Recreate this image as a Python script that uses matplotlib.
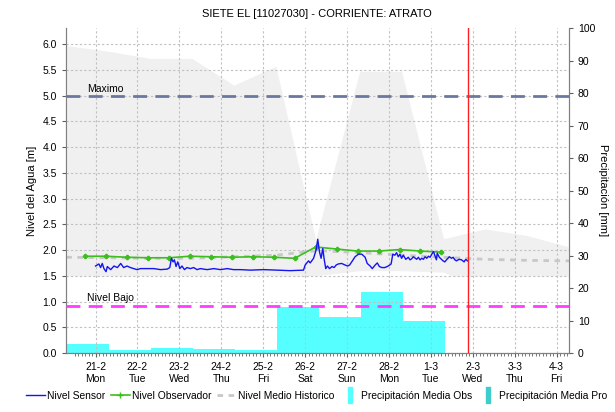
import matplotlib
matplotlib.use("Agg")
import matplotlib.pyplot as plt
from matplotlib.lines import Line2D
import numpy as np

# time axis: days since 21-2 00:00
tick_days = [0, 1, 2, 3, 4, 5, 6, 7, 8, 9, 10, 11]
tick_labels = ["21-2\nMon", "22-2\nTue", "23-2\nWed", "24-2\nThu", "25-2\nFri",
               "26-2\nSat", "27-2\nSun", "28-2\nMon", "1-3\nTue", "2-3\nWed",
               "3-3\nThu", "4-3\nFri"]

# Nivel Sensor [m]
sensor_t = [0.00, 0.08, 0.12, 0.16, 0.20, 0.25, 0.28, 0.36, 0.44, 0.52, 0.60, 0.67,
            0.75, 0.83, 0.91, 0.99, 1.07, 1.23, 1.39, 1.55, 1.71, 1.77, 1.81, 1.85,
            1.88, 1.92, 1.96, 2.01, 2.06, 2.12, 2.18, 2.26, 2.34, 2.42, 2.50, 2.66,
            2.82, 2.98, 3.14, 3.29, 3.45, 3.69, 4.01, 4.33, 4.64, 4.96, 5.00, 5.08,
            5.12, 5.20, 5.26, 5.30, 5.34, 5.38, 5.42, 5.45, 5.49, 5.53, 5.58, 5.64,
            5.69, 5.74, 5.79, 5.87, 5.95, 6.01, 6.06, 6.11, 6.19, 6.27, 6.35, 6.43,
            6.48, 6.55, 6.60, 6.67, 6.72, 6.77, 6.83, 6.90, 6.98, 7.05, 7.09, 7.14,
            7.18, 7.22, 7.26, 7.30, 7.34, 7.40, 7.46, 7.50, 7.54, 7.58, 7.66, 7.70,
            7.74, 7.78, 7.82, 7.86, 7.90, 7.94, 7.98, 8.02, 8.06, 8.10, 8.13, 8.15,
            8.20, 8.25, 8.29, 8.33, 8.37, 8.44, 8.49, 8.53, 8.57, 8.61, 8.67, 8.73,
            8.79, 8.83, 8.87]
sensor_v = [1.69, 1.73, 1.66, 1.74, 1.64, 1.58, 1.68, 1.62, 1.69, 1.66, 1.74, 1.66,
            1.69, 1.66, 1.64, 1.62, 1.64, 1.64, 1.64, 1.62, 1.63, 1.66, 1.84, 1.77,
            1.81, 1.68, 1.77, 1.64, 1.69, 1.62, 1.66, 1.64, 1.66, 1.62, 1.64, 1.62,
            1.64, 1.62, 1.64, 1.62, 1.62, 1.61, 1.62, 1.61, 1.60, 1.61, 1.71, 1.79,
            1.75, 1.84, 2.00, 2.21, 1.97, 1.84, 2.03, 1.84, 1.64, 1.69, 1.64, 1.68,
            1.66, 1.71, 1.73, 1.74, 1.71, 1.69, 1.71, 1.77, 1.87, 1.92, 1.92, 1.86,
            1.74, 1.69, 1.64, 1.71, 1.75, 1.68, 1.66, 1.66, 1.69, 1.73, 1.92, 1.90,
            1.95, 1.87, 1.92, 1.84, 1.90, 1.82, 1.86, 1.81, 1.83, 1.87, 1.82, 1.86,
            1.81, 1.84, 1.82, 1.87, 1.84, 1.88, 1.86, 1.92, 1.97, 1.88, 1.81, 1.94,
            1.86, 1.82, 1.79, 1.77, 1.81, 1.87, 1.84, 1.86, 1.81, 1.79, 1.82, 1.81,
            1.77, 1.82, 1.79]

# Nivel Observador [m]
obs_t = [-0.25, 0.25, 0.75, 1.25, 1.75, 2.25, 2.75, 3.25, 3.75, 4.25, 4.75,
         5.25, 5.75, 6.25, 6.75, 7.25, 7.75, 8.25]
obs_v = [1.88, 1.88, 1.86, 1.85, 1.85, 1.88, 1.87, 1.86, 1.87, 1.86, 1.84,
         2.06, 2.02, 1.98, 1.98, 2.01, 1.98, 1.96]

# Nivel Medio Historico [m] and historical band
hist_t = [-0.7, 0.3, 1.3, 2.3, 3.3, 4.3, 5.3, 6.3, 7.3, 8.3, 9.3, 10.3, 11.3]
hist_mean = [1.86, 1.85, 1.84, 1.84, 1.87, 1.90, 1.99, 1.95, 1.90, 1.86, 1.82, 1.80, 1.79]
band_t = [-0.7, 0.3, 1.3, 2.3, 3.3, 4.3, 5.25, 6.3, 7.3, 8.3, 8.5, 9.3, 10.3, 11.3]
band_hi = [5.97, 5.86, 5.72, 5.72, 5.20, 5.57, 2.20, 5.47, 5.47, 2.22, 2.26, 2.41, 2.28, 2.06]
band_lo = [1.50, 1.50, 1.50, 1.50, 1.50, 1.50, 1.50, 1.60, 1.60, 1.57, 1.50, 1.50, 1.50, 1.50]

# Precipitacion Media Obs [mm], daily totals (07:00 - 07:00)
rain_start = [-1.67, -0.67, 0.33, 1.33, 2.33, 3.33, 4.33, 5.33, 6.33, 7.33]
rain_mm = [18.2, 2.7, 1.1, 1.7, 1.4, 0.8, 14.3, 11.1, 18.7, 9.8]

nivel_max = 5.0
nivel_bajo = 0.92
now_t = 8.88

plt.rcParams['font.family'] = ['Liberation Sans', 'DejaVu Sans']
plt.rcParams['font.size'] = 7.5

fig = plt.figure(figsize=(6.15, 4.12), dpi=100)
ax = fig.add_axes([0.107, 0.143, 0.818, 0.789])
ax2 = ax.twinx()
ax.set_zorder(ax2.get_zorder() + 1)
ax.patch.set_visible(False)

# bars on the mm axis
ax2.bar(rain_start, rain_mm, width=1.0, align='edge', color='#55ffff', linewidth=0)
ax2.set_ylim(0, 100)
ax2.set_yticks(np.arange(0, 101, 10))
ax2.set_ylabel("Precipitación [mm]", rotation=270, labelpad=9, fontsize=8)

ax.fill_between(band_t, band_lo, band_hi, color='#f0f0f0', linewidth=0, zorder=0)
ax.plot(hist_t, hist_mean, color='#c8c8c8', lw=2, ls=(0, (2, 2)), zorder=2)
ax.plot(sensor_t, sensor_v, color='#1414f0', lw=1, zorder=4)
ax.plot(obs_t, obs_v, color='#3cbf1e', lw=1.2, marker='P', ms=3, zorder=3)

ax.axhline(nivel_max, color='#6a78a0', lw=2, ls=(0, (5, 3)), zorder=3)
ax.axhline(nivel_bajo, color='#ff3cff', lw=2, ls=(0, (5, 3)), zorder=3)
ax.text(-0.2, nivel_max + 0.03, "Maximo", fontsize=7.5, va='bottom')
ax.text(-0.2, nivel_bajo + 0.05, "Nivel Bajo", fontsize=7.5, va='bottom')
ax.axvline(now_t, color='#ff2020', lw=1, zorder=5)

ax.set_xlim(-0.71, 11.29)
ax.set_ylim(0, 6.31)
ax.set_yticks(np.arange(0, 6.01, 0.5))
ax.set_yticklabels(["%.1f" % v for v in np.arange(0, 6.01, 0.5)])
ax.set_xticks(tick_days)
ax.set_xticklabels(tick_labels)
ax.set_xticks(np.arange(-0.5, 11.3, 1 / 12), minor=True)
ax.tick_params(axis='x', which='minor', length=2, color='#606060')
ax.tick_params(axis='both', which='major', length=3, color='#606060')
ax2.tick_params(axis='y', length=3, color='#606060')
ax.grid(True, color='#c0c0c0', ls=(0, (2, 2)), lw=0.8)
ax.set_ylabel("Nivel del Agua [m]", fontsize=8)
ax.set_title("SIETE EL [11027030] - CORRIENTE: ATRATO", fontsize=8, pad=8)

for a in (ax, ax2):
    a.spines['top'].set_visible(False)
    for s in ('left', 'right', 'bottom'):
        a.spines[s].set_color('#808080')

rect = [(-0.3, -1), (0.3, -1), (0.3, 1), (-0.3, 1), (-0.3, -1)]
handles = [
    Line2D([], [], color='#1414f0', lw=1),
    Line2D([], [], color='#3cbf1e', lw=1.2, marker='+', ms=4),
    Line2D([], [], color='#c8c8c8', lw=2, ls=(0, (2, 2))),
    Line2D([], [], ls='none', marker=rect, ms=11, color='#55ffff'),
    Line2D([], [], ls='none', marker=rect, ms=11, color='#3fcccc'),
]
labels = ["Nivel Sensor", "Nivel Observador", "Nivel Medio Historico",
          "Precipitación Media Obs", "Precipitación Media Pro"]
fig.legend(handles, labels, loc='center', bbox_to_anchor=(0.515, 0.04), ncol=5,
           frameon=False, fontsize=7.4, handlelength=1.8, handletextpad=0.2,
           columnspacing=0.6, borderpad=0.1)

fig.savefig("out.png", dpi=100)
